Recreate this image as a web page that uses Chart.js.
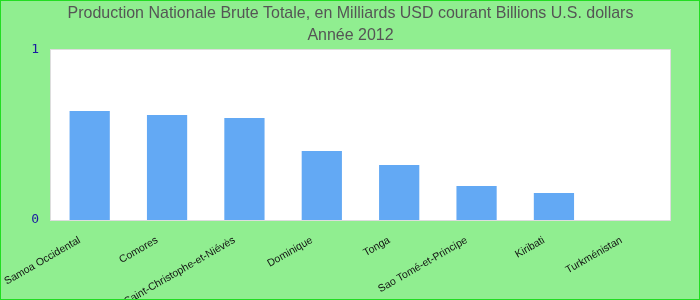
<!DOCTYPE html>
<html>
<head>
<meta charset="utf-8">
<script src="https://cdn.jsdelivr.net/npm/chart.js@4"></script>
<style>
  html, body { margin: 0; padding: 0; }
  #wrap {
    width: 700px;
    height: 300px;
    box-sizing: border-box;
    border: 1px solid #22dd22;
    background: #90ee90;
    overflow: hidden;
  }
</style>
</head>
<body>
<div id="wrap"><canvas id="chart" width="698" height="298"></canvas></div>
<script>
const titleLines = [
  "Production Nationale Brute Totale, en Milliards USD courant Billions U.S. dollars",
  "Année 2012",
];
const countries = [
  "Samoa Occidental",
  "Comores",
  "Saint-Christophe-et-Niévès",
  "Dominique",
  "Tonga",
  "Sao Tomé-et-Principe",
  "Kiribati",
  "Turkménistan",
];
const gnpValues = [0.641, 0.618, 0.6, 0.406, 0.324, 0.2, 0.159, 0];
const yTicks = [0, 1];

// white plot area with a light grey frame
const plotBackground = {
  id: "plotBackground",
  beforeDraw(chart) {
    const { ctx, chartArea: a } = chart;
    ctx.save();
    ctx.fillStyle = "#ffffff";
    ctx.fillRect(a.left, a.top, a.right - a.left, a.bottom - a.top);
    ctx.restore();
  },
  afterDraw(chart) {
    const { ctx, chartArea: a } = chart;
    ctx.save();
    ctx.strokeStyle = "#dddddd";
    ctx.lineWidth = 1;
    ctx.strokeRect(a.left - 0.5, a.top - 0.5, a.right - a.left + 1, a.bottom - a.top + 1);
    ctx.restore();
  },
};

// the title in the original is a tall, slightly narrow face: draw it squeezed
const narrowTitle = {
  id: "narrowTitle",
  afterDraw(chart) {
    const { ctx, width } = chart;
    const squeeze = 0.94;
    ctx.save();
    ctx.fillStyle = "#555555";
    ctx.font = "17px Arial, 'Liberation Sans', sans-serif";
    ctx.textAlign = "center";
    ctx.textBaseline = "alphabetic";
    ctx.translate(width / 2 + 0.5, 0);
    ctx.scale(squeeze, 1);
    titleLines.forEach((line, i) => {
      ctx.fillText(line, 0, 17 + i * 22);
    });
    ctx.restore();
  },
};

const ctx = document.getElementById("chart").getContext("2d");

new Chart(ctx, {
  type: "bar",
  data: {
    labels: countries,
    datasets: [
      {
        data: gnpValues,
        backgroundColor: "#63a9f4",
        borderWidth: 0,
        categoryPercentage: 1,
        barPercentage: 0.52,
      },
    ],
  },
  options: {
    responsive: false,
    animation: false,
    layout: { padding: { top: 49, right: 0, bottom: 0, left: 0 } },
    plugins: {
      legend: { display: false },
      tooltip: { enabled: false },
      title: { display: false },
    },
    scales: {
      x: {
        grid: { display: false },
        border: { display: false },
        ticks: {
          color: "#111111",
          font: { family: "Arial, 'Liberation Sans', sans-serif", size: 10.5 },
          autoSkip: false,
          maxRotation: 30,
          minRotation: 30,
          padding: 6,
          labelOffset: -10,
        },
        afterFit(scale) {
          scale.height = 79;
        },
      },
      y: {
        min: 0,
        max: 1,
        grid: { display: false },
        border: { display: false },
        afterBuildTicks(scale) {
          scale.ticks = yTicks.map((v) => ({ value: v }));
        },
        ticks: {
          color: "#1a1aa0",
          font: { family: "'DejaVu Sans Mono', monospace", size: 13 },
          padding: 4,
        },
        afterFit(scale) {
          scale.width = 50;
        },
      },
      // empty right-hand axis that only keeps a margin right of the plot
      yRight: {
        position: "right",
        grid: { display: false },
        border: { display: false },
        ticks: { display: false },
        afterFit(scale) {
          scale.width = 29;
        },
      },
    },
  },
  plugins: [plotBackground, narrowTitle],
});
</script>
</body>
</html>
